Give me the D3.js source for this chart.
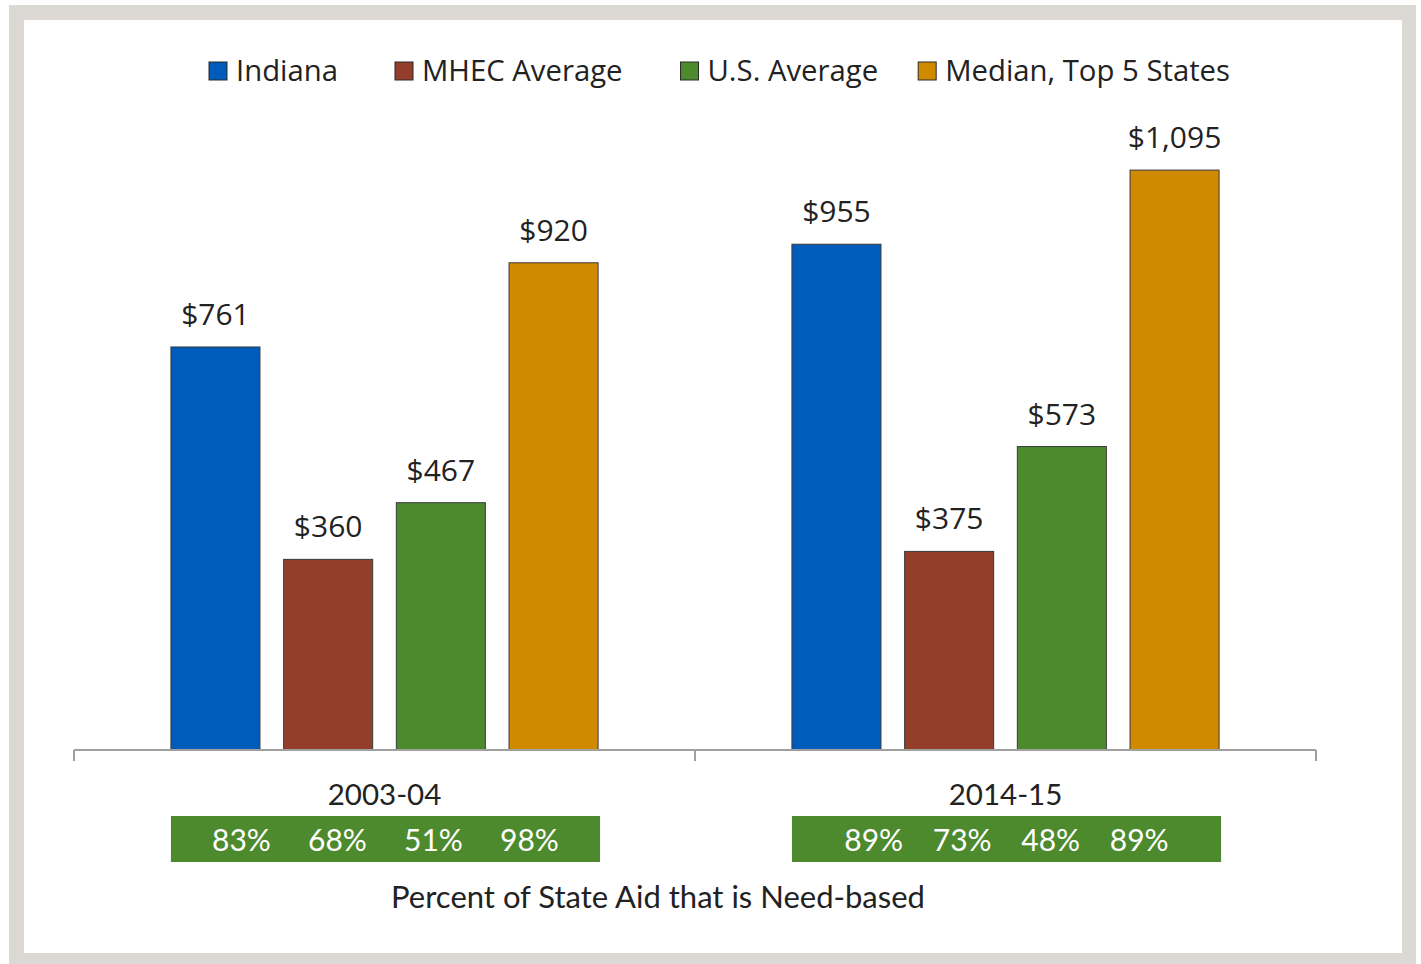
<!DOCTYPE html>
<html>
<head>
<meta charset="utf-8">
<script src="https://cdn.jsdelivr.net/npm/d3@7"></script>
<style>
  body { margin: 0; background: #fff; }
</style>
</head>
<body>
<div id="chart"></div>
<script>
// Datos
const years = ["2003-04", "2014-15"];
const seriesNames = ["Indiana", "MHEC Average", "U.S. Average", "Median, Top 5 States"];
const aid2003 = [761, 360, 467, 920];
const aid2014 = [955, 375, 573, 1095];
const needPct2003 = ["83%", "68%", "51%", "98%"];
const needPct2014 = ["89%", "73%", "48%", "89%"];
const footerLabel = "Percent of State Aid that is Need-based";

const colors = ["#005cbb", "#923e2b", "#4c8a2d", "#d08a00"];

// Tamaños
const WIDTH = 1421;
const HEIGHT = 964;
const plot = { left: 74, right: 1316, top: 169, bottom: 750 };

const svg = d3.select("#chart").append("svg")
    .attr("width", WIDTH)
    .attr("height", HEIGHT);

// Marco gris
svg.append("rect")
    .attr("x", 9).attr("y", 5)
    .attr("width", 1407).attr("height", 959)
    .attr("fill", "#dcd8d4");
svg.append("rect")
    .attr("x", 24).attr("y", 20)
    .attr("width", 1378).attr("height", 933)
    .attr("fill", "#ffffff");

const rows = years.map((y, i) => ({
    year: y,
    values: [aid2003, aid2014][i],
    pct: [needPct2003, needPct2014][i]
}));

// Escalas
const x0 = d3.scaleBand()
    .domain(years)
    .range([plot.left, plot.right])
    .padding(0);

const x1 = d3.scaleBand()
    .domain(seriesNames)
    .range([0, x0.bandwidth()])
    .paddingInner(0.21)
    .paddingOuter(0.86);

const yScale = d3.scaleLinear()
    .domain([0, 1095])
    .range([plot.bottom, plot.bottom - 1095 * 0.5296]);

// Barras
const groups = svg.selectAll(".group")
    .data(rows)
    .enter().append("g")
    .attr("class", "group")
    .attr("transform", d => `translate(${x0(d.year)}, 0)`);

groups.selectAll("rect")
    .data(d => d.values.map((v, i) => ({ name: seriesNames[i], value: v, color: colors[i] })))
    .enter().append("rect")
    .attr("x", d => x1(d.name))
    .attr("y", d => yScale(d.value))
    .attr("width", x1.bandwidth())
    .attr("height", d => yScale(0) - yScale(d.value))
    .attr("fill", d => d.color)
    .attr("stroke", "#3a3a3a")
    .attr("stroke-width", 1);

// Etiquetas de valores
groups.selectAll(".val")
    .data(d => d.values.map((v, i) => ({ name: seriesNames[i], value: v })))
    .enter().append("text")
    .attr("class", "val")
    .attr("x", d => x1(d.name) + x1.bandwidth() / 2)
    .attr("y", d => yScale(d.value) - 22)
    .attr("text-anchor", "middle")
    .style("font-family", "'Open Sans', sans-serif")
    .style("font-size", "30px")
    .style("fill", "#222")
    .text(d => "$" + d3.format(",")(d.value));

// Eje x
const axis = svg.append("g").attr("class", "x-axis");
axis.append("line")
    .attr("x1", plot.left).attr("x2", plot.right)
    .attr("y1", plot.bottom).attr("y2", plot.bottom)
    .attr("stroke", "#a0a0a0").attr("stroke-width", 2);
axis.selectAll(".tick")
    .data([plot.left, ...years.map(y => x0(y) + x0.bandwidth())])
    .enter().append("line")
    .attr("x1", d => d).attr("x2", d => d)
    .attr("y1", plot.bottom).attr("y2", plot.bottom + 11)
    .attr("stroke", "#a0a0a0").attr("stroke-width", 2);

groups.append("text")
    .attr("x", x0.bandwidth() / 2)
    .attr("y", 805)
    .attr("text-anchor", "middle")
    .style("font-family", "Lato, sans-serif")
    .style("font-size", "29.5px")
    .style("fill", "#222")
    .text(d => d.year);

// Cajas verdes con porcentajes
const pctGap = [96, 88.5];
groups.append("rect")
    .attr("x", x1(seriesNames[0]))
    .attr("y", 816)
    .attr("width", x1(seriesNames[3]) + x1.bandwidth() + 2 - x1(seriesNames[0]))
    .attr("height", 46)
    .attr("fill", "#4d8a2e");

groups.each(function(d, gi) {
    const mid = (x1(seriesNames[0]) + x1(seriesNames[3]) + x1.bandwidth() + 2) / 2;
    d3.select(this).selectAll(".pct")
        .data(d.pct)
        .enter().append("text")
        .attr("class", "pct")
        .attr("x", (p, i) => mid + (i - 1.5) * pctGap[gi])
        .attr("y", 851)
        .attr("text-anchor", "middle")
        .style("font-family", "Lato, sans-serif")
        .style("font-size", "30px")
        .style("fill", "#fff")
        .text(p => p);
});

svg.append("text")
    .attr("x", 658)
    .attr("y", 908)
    .attr("text-anchor", "middle")
    .style("font-family", "Lato, sans-serif")
    .style("font-size", "31px")
    .style("fill", "#222")
    .text(footerLabel);

// Leyenda
const legend = svg.append("g").attr("class", "legend");
const items = legend.selectAll(".item")
    .data(seriesNames)
    .enter().append("g")
    .attr("class", "item");
items.append("rect")
    .attr("width", 18).attr("height", 18)
    .attr("y", 62)
    .attr("fill", (d, i) => colors[i])
    .attr("stroke", "#2a2a2a").attr("stroke-width", 1);
items.append("text")
    .attr("x", 27)
    .attr("y", 81)
    .style("font-family", "'Open Sans', sans-serif")
    .style("font-size", "29.3px")
    .style("fill", "#222")
    .text(d => d);

const legendGap = [57, 58, 40];
let pos = 209;
items.each(function(d, i) {
    d3.select(this).attr("transform", `translate(${pos}, 0)`);
    const w = 27 + d3.select(this).select("text").node().getComputedTextLength();
    pos += w + (legendGap[i] || 0);
});
</script>
</body>
</html>
